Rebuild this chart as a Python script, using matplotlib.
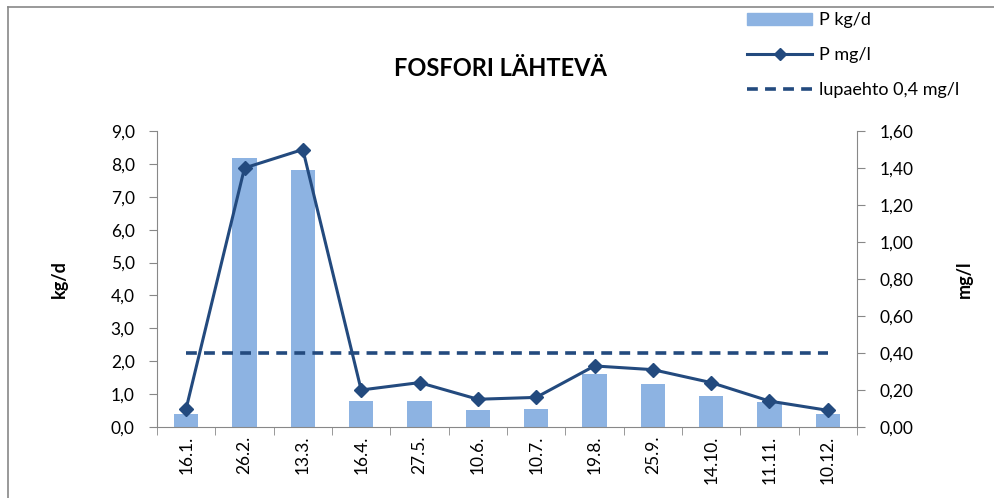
import matplotlib
matplotlib.use("Agg")
import matplotlib.pyplot as plt
from matplotlib.lines import Line2D
from matplotlib.ticker import FixedLocator, FuncFormatter

categories = ["16.1.", "26.2.", "13.3.", "16.4.", "27.5.", "10.6.", "10.7.",
              "19.8.", "25.9.", "14.10.", "11.11.", "10.12."]
p_kgd = [0.4, 8.17, 7.8, 0.8, 0.8, 0.52, 0.55, 1.6, 1.3, 0.95, 0.75, 0.4]
p_mgl = [0.10, 1.40, 1.50, 0.20, 0.24, 0.15, 0.16, 0.33, 0.31, 0.24, 0.14, 0.09]
limit_mgl = 0.4
left_ticks = [0, 1, 2, 3, 4, 5, 6, 7, 8, 9]
right_ticks = [0, 0.2, 0.4, 0.6, 0.8, 1.0, 1.2, 1.4, 1.6]

plt.rcParams['font.family'] = ['Lato', 'DejaVu Sans']

W, H = 995, 498
fig = plt.figure(figsize=(W / 100, H / 100), dpi=100)
ax = fig.add_axes([157 / W, 1 - 427 / H, (857 - 157) / W, (427 - 131) / H])
ax2 = ax.twinx()

bar_c = "#8DB3E2"
line_c = "#234A7E"
gray = "#888888"

x = list(range(len(categories)))
ax.bar(x, p_kgd, width=0.42, color=bar_c, zorder=1, label="P kg/d")
ax.set_xlim(-0.5, len(categories) - 0.5)
ax.set_ylim(0, 9)
ax2.set_ylim(0, 1.6)

ax2.plot(x, p_mgl, color=line_c, lw=2.2, marker="D", ms=7, zorder=3, label="P mg/l")
ax2.plot([x[0], x[-1]], [limit_mgl, limit_mgl], color=line_c, lw=2.6,
         ls=(0, (3, 2)), zorder=2, label="lupaehto 0,4 mg/l")

ax.yaxis.set_major_locator(FixedLocator(left_ticks))
ax.yaxis.set_major_formatter(FuncFormatter(lambda v, p: f"{v:.1f}".replace(".", ",")))
ax2.yaxis.set_major_locator(FixedLocator(right_ticks))
ax2.yaxis.set_major_formatter(FuncFormatter(lambda v, p: f"{v:.2f}".replace(".", ",")))

ax.set_xticks(x)
ax.set_xticklabels(categories, rotation=90, fontsize=12.5)
ax.set_xticks([i - 0.5 for i in range(len(categories) + 1)], minor=True)
ax.tick_params(axis="x", which="major", length=0, pad=6)
ax.tick_params(axis="x", which="minor", length=6, color=gray, direction="out")
ax.tick_params(axis="y", labelsize=12.5, length=6, color=gray, pad=10)
ax2.tick_params(axis="y", labelsize=12.5, length=6, color=gray, pad=10)

for a in (ax, ax2):
    a.spines["top"].set_visible(False)
    for s in ("left", "right", "bottom"):
        a.spines[s].set_color(gray)
ax2.spines["bottom"].set_visible(False)
ax2.spines["left"].set_visible(False)
ax.spines["right"].set_visible(False)

ax.set_ylabel("kg/d", fontsize=13, fontweight="bold", labelpad=31)
ax2.set_ylabel("mg/l", fontsize=13, fontweight="bold", labelpad=31)

fig.text(500 / W, 1 - 68 / H, "FOSFORI LÄHTEVÄ", ha="center", va="center",
         fontsize=17, fontweight="bold")

handles = [
    plt.Rectangle((0, 0), 1, 1, color=bar_c),
    Line2D([], [], color=line_c, lw=2.2, marker="D", ms=6),
    Line2D([], [], color=line_c, lw=2.6, ls=(0, (3, 2))),
]
fig.legend(handles, ["P kg/d", "P mg/l", "lupaehto 0,4 mg/l"],
           loc="upper left", bbox_to_anchor=(740 / W, 1 - 5 / H),
           frameon=False, fontsize=13, handlelength=3.6, labelspacing=1.05,
           handletextpad=0.4, borderaxespad=0)

# chart area frame (left and top edges visible)
fig.add_artist(Line2D([8 / W, 8 / W], [0, 1 - 7 / H], color=gray, lw=1.2))
fig.add_artist(Line2D([8 / W, 1], [1 - 7 / H, 1 - 7 / H], color=gray, lw=1.2))

fig.savefig("out.png", dpi=100)
